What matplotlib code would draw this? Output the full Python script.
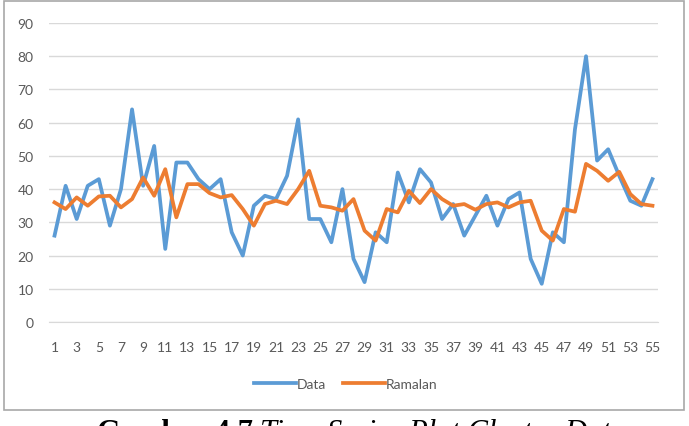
import matplotlib
matplotlib.use("Agg")
import matplotlib.pyplot as plt
from matplotlib.patches import Rectangle

periods = list(range(1, 56))
data = [26, 41, 31, 41, 43, 29, 40, 64, 41, 53,
        22, 48, 48, 43, 40, 43, 27, 20, 35, 38,
        37, 44, 61, 31, 31, 24, 40, 19, 12, 27,
        24, 45, 36, 46, 42, 31, 35.5, 26, 32, 38,
        29, 37, 39, 19, 11.5, 27, 24, 58, 80, 48.6,
        52, 44, 36.5, 35, 43]
ramalan = [36, 34, 37.5, 35, 37.8, 38, 34.5, 37, 43.5, 38,
           46, 31.5, 41.5, 41.5, 38.8, 37.5, 38.2, 34, 29, 35.5,
           36.5, 35.5, 40, 45.5, 35, 34.5, 33.5, 37, 27.5, 24.5,
           34, 33, 39.5, 35.8, 40, 37, 35, 35.5, 33.8, 35.5,
           36, 34.5, 36, 36.5, 27.5, 24.5, 34, 33.2, 47.6, 45.5,
           42.5, 45.2, 38.5, 35.5, 35]
yticks = list(range(0, 91, 10))
xtick_labels = [str(p) for p in periods if p % 2 == 1]
caption_bold = "Gambar 4.7"
caption_italic = "Time Series Plot Cluster Data"

W, H = 689, 427
fig = plt.figure(figsize=(W / 100, H / 100), dpi=100)
fig.patch.set_facecolor("white")

sans = ["Liberation Sans Narrow", "Lato", "DejaVu Sans"]

# chart border
fig.patches.append(Rectangle((3.5 / W, 1 - 410.5 / H), 680 / W, 408.5 / H,
                             transform=fig.transFigure, fill=False,
                             edgecolor="#a8a8a8", linewidth=1.2))

ax = fig.add_axes([49 / W, 1 - 323 / H, 609 / W, 299 / H])
ax.set_facecolor("white")
ax.plot(periods, data, color="#5B9BD5", lw=2.7, label="Data", solid_joinstyle="round")
ax.plot(periods, ramalan, color="#ED7D31", lw=2.7, label="Ramalan", solid_joinstyle="round")
ax.set_xlim(0.5, 55.5)
ax.set_ylim(0, 90)
ax.set_yticks(yticks)
ax.set_yticklabels([str(v) for v in yticks])
ax.set_xticks([p for p in periods if p % 2 == 1])
ax.set_xticklabels(xtick_labels)
ax.grid(axis="y", color="#d9d9d9", lw=1)
ax.set_axisbelow(True)
for s in ["top", "right", "left"]:
    ax.spines[s].set_visible(False)
ax.spines["bottom"].set_color("#d9d9d9")
ax.tick_params(length=0, colors="#595959", labelsize=10)
for lab in ax.get_xticklabels() + ax.get_yticklabels():
    lab.set_family(sans)
ax.tick_params(axis="y", pad=11)
ax.tick_params(axis="x", pad=14)

leg = fig.legend(loc="center", bbox_to_anchor=(346 / W, 1 - 385 / H), ncol=2,
                 frameon=False, handlelength=3.0, columnspacing=1.2, handletextpad=0.1,
                 prop={"family": sans, "size": 10})
for t in leg.get_texts():
    t.set_color("#595959")

base_y = 1 - 441 / H
t1 = fig.text(97 / W, base_y, caption_bold, fontsize=22, fontweight="bold",
              family="Liberation Serif", va="baseline", ha="left")
r = fig.canvas.get_renderer()
bb = t1.get_window_extent(renderer=r)
fig.text((bb.x1 + 7) / W, base_y, caption_italic, fontsize=22,
         style="italic", family="Liberation Serif", va="baseline", ha="left")

fig.savefig("out.png", dpi=100)
